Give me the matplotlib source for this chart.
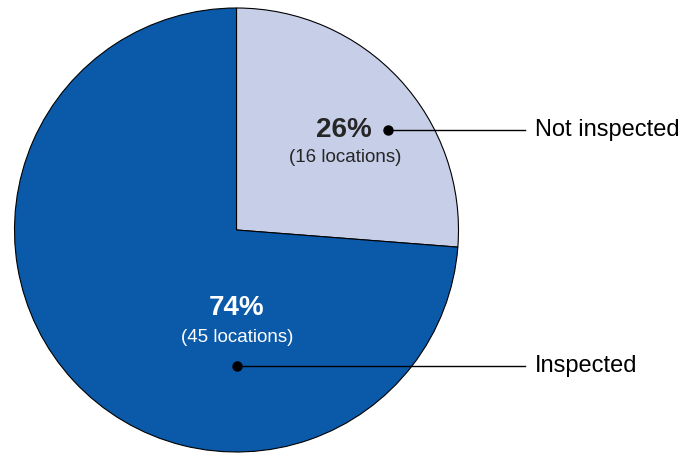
import matplotlib
matplotlib.use("Agg")
import matplotlib.pyplot as plt
import numpy as np

plt.rcParams['font.family'] = ['Liberation Sans', 'DejaVu Sans']

# Data
categories = ["Not inspected", "Inspected"]
counts = [16, 45]
colors = ["#C6CEE8", "#0B5AAA"]
pct_colors = ["#262626", "white"]

total = sum(counts)
pcts = [c / total * 100 for c in counts]

# Figure in pixel units (685 x 455)
fig = plt.figure(figsize=(6.85, 4.55), dpi=100)
ax = fig.add_axes([0, 0, 1, 1])

H = 455
cx, cy, r = 236.5, H - 230, 222

ax.pie(counts, startangle=90, counterclock=False, colors=colors,
       center=(cx, cy), radius=r,
       wedgeprops=dict(edgecolor="black", linewidth=0.8))

ax.set_xlim(0, 685)
ax.set_ylim(0, H)
ax.set_aspect("equal")
ax.axis("off")

# Label positions (image px): percent text, count text, dot
pct_pos = [(344, 130), (237, 308)]
cnt_pos = [(345, 158), (237, 337)]
dot_pos = [(388, 130), (237, 366)]
line_end = 525
name_x = 535

for i, cat in enumerate(categories):
    px, py = pct_pos[i]
    ax.text(px, H - py, f"{pcts[i]:.0f}%", ha="center", va="center",
            fontsize=20, fontweight="bold", color=pct_colors[i])
    qx, qy = cnt_pos[i]
    ax.text(qx, H - qy, f"({counts[i]} locations)", ha="center", va="center",
            fontsize=13.5, color=pct_colors[i])
    dx, dy = dot_pos[i]
    ax.plot([dx, line_end], [H - dy, H - dy], color="black", lw=1.0)
    ax.plot(dx, H - dy, "o", color="black", ms=6.5)
    ax.text(name_x, H - dy, cat, ha="left", va="center", fontsize=17,
            color="black")

fig.savefig("out.png", dpi=100)
